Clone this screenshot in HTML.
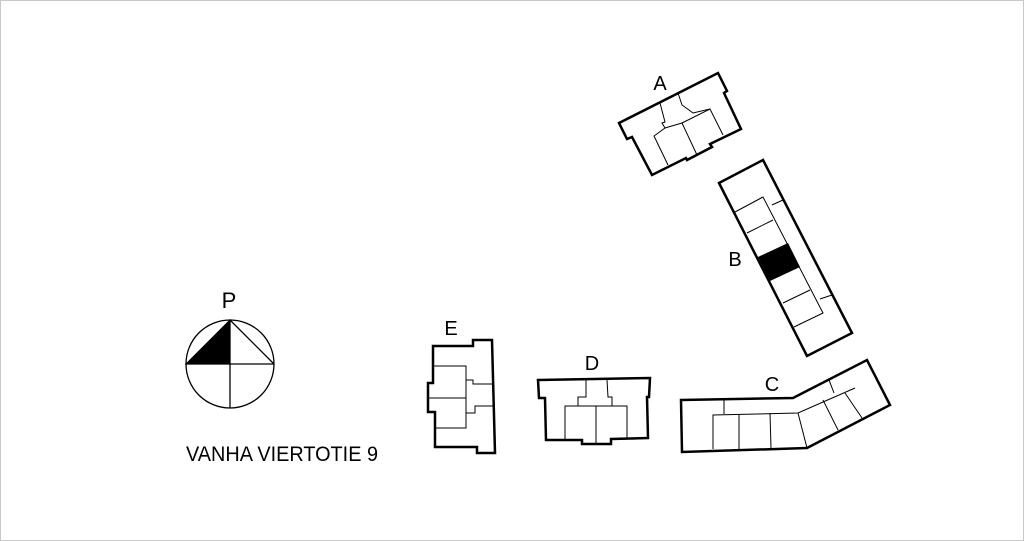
<!DOCTYPE html>
<html><head><meta charset="utf-8"><style>
html,body{margin:0;padding:0;background:#fff}
svg{display:block}
text{font-family:"Liberation Sans",sans-serif;fill:#000}
</style></head><body>
<svg width="1024" height="541" viewBox="0 0 1024 541" xmlns="http://www.w3.org/2000/svg">
<rect x="0.5" y="0.5" width="1023" height="540" fill="#fff" stroke="#c8c8c8"/>
<g fill="none" stroke="#000" stroke-linejoin="miter">
<!-- A -->
<polygon stroke-width="2.5" points="619,123 718,73 727,91 724,93 741,129 710,144 712,147 687,160 686,158 652,175 632,137 627,139"/>
<polyline stroke-width="1" points="660,103 665,122 662,123 665,128 654,136 668,165"/>
<polyline stroke-width="1" points="665,128 682,123 697,155"/>
<polyline stroke-width="1" points="682,123 710,109 723,135"/>
<polyline stroke-width="1" points="678,93 682,105 689,110 693,113 710,109"/>
<!-- B -->
<polygon stroke-width="2.5" points="719,183 763,160 852,333 807,356"/>
<polyline stroke-width="1" points="735,212 763,197 823,313 794,327"/>
<line stroke-width="1" x1="772" y1="205" x2="783" y2="200"/>
<line stroke-width="1" x1="747" y1="233" x2="773" y2="220"/>
<polygon fill="#000" stroke="none" points="758,257 788,243 800,267 770,281"/>
<line stroke-width="1" x1="783" y1="303" x2="810" y2="290"/>
<line stroke-width="1" x1="820" y1="299" x2="832" y2="295"/>
<!-- C -->
<polygon stroke-width="2.5" points="681,400 793,398 867,360 890,405 807,448 682,452"/>
<line stroke-width="1" x1="724" y1="400" x2="724" y2="414"/>
<polyline stroke-width="1" points="713,449 713,415 798,413 855,388"/>
<line stroke-width="1" x1="739" y1="414" x2="739" y2="449"/>
<line stroke-width="1" x1="770" y1="413" x2="771" y2="448"/>
<line stroke-width="1" x1="798" y1="413" x2="807" y2="448"/>
<line stroke-width="1" x1="829" y1="380" x2="834" y2="393"/>
<line stroke-width="1" x1="823" y1="400" x2="838" y2="430"/>
<line stroke-width="1" x1="845" y1="393" x2="862" y2="418"/>
<!-- D -->
<polygon stroke-width="2.5" points="538,380 650,378 649,397 647,397 648,438 611,439 611,444 582,444 582,440 546,440 545,398 539,398"/>
<polyline stroke-width="1" points="586,380 586,397 578,397 578,406 565,406 565,439"/>
<polyline stroke-width="1" points="607,380 608,397 612,397 612,406 627,406 627,438"/>
<line stroke-width="1" x1="578" y1="406" x2="612" y2="406"/>
<line stroke-width="1" x1="596" y1="406" x2="596" y2="444"/>
<!-- E -->
<polygon stroke-width="2.5" points="433,346 473,346 473,340 492,340 495,453 477,453 477,447 435,447 435,412 428,412 428,383 433,383"/>
<polyline stroke-width="1" points="433,366 466,366 466,380 473,380 473,384 493,384"/>
<line stroke-width="1" x1="428" y1="398" x2="466" y2="398"/>
<polyline stroke-width="1" points="435,428 466,428 466,413 475,413 475,406 493,406"/>
<line stroke-width="1" x1="466" y1="380" x2="466" y2="413"/>
<!-- compass -->
<circle cx="230" cy="364" r="44" stroke-width="1.3"/>
<line stroke-width="1.3" x1="230" y1="320" x2="230" y2="408"/>
<line stroke-width="1.3" x1="186" y1="364" x2="274" y2="364"/>
<line stroke-width="1.3" x1="230" y1="320" x2="274" y2="364"/>
<polygon fill="#000" stroke="#000" stroke-width="1" points="230,320 230,364 186,364"/>
</g>
<text x="660" y="90" font-size="20" text-anchor="middle">A</text>
<text x="735" y="266" font-size="20" text-anchor="middle">B</text>
<text x="772" y="391" font-size="20" text-anchor="middle">C</text>
<text x="592" y="370" font-size="20" text-anchor="middle">D</text>
<text x="451" y="335" font-size="20" text-anchor="middle">E</text>
<text x="229" y="308" font-size="22" text-anchor="middle">P</text>
<text x="186" y="461" font-size="21" textLength="192" lengthAdjust="spacingAndGlyphs">VANHA VIERTOTIE 9</text>
</svg>
</body></html>
